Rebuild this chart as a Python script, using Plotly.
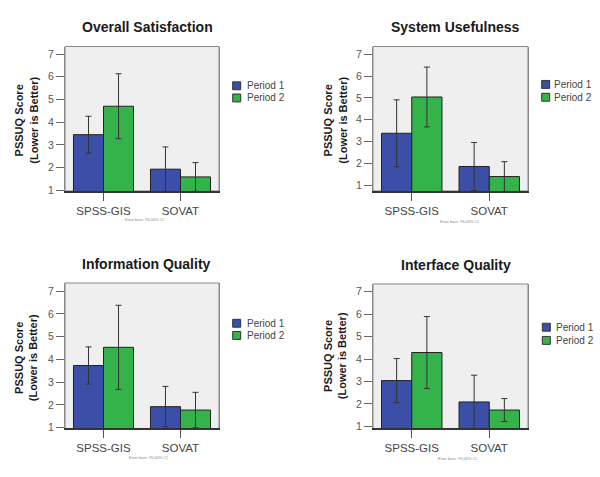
import plotly.graph_objects as go

W, H = 600, 477

categories = ["SPSS-GIS", "SOVAT"]
series_names = ["Period 1", "Period 2"]
titles = ["Overall Satisfaction", "System Usefulness", "Information Quality", "Interface Quality"]

# means per panel: [Period1, Period2] for [SPSS-GIS, SOVAT]
overall_p1 = [3.45, 1.93]
overall_p2 = [4.70, 1.59]
overall_p1_ci = [0.81, 0.98]
overall_p2_ci = [1.43, 0.63]

useful_p1 = [3.38, 1.86]
useful_p2 = [5.04, 1.40]
useful_p1_ci = [1.53, 1.10]
useful_p2_ci = [1.37, 0.68]

info_p1 = [3.73, 1.92]
info_p2 = [4.53, 1.77]
info_p1_ci = [0.82, 0.89]
info_p2_ci = [1.85, 0.78]

iface_p1 = [3.04, 2.09]
iface_p2 = [4.29, 1.73]
iface_p1_ci = [0.98, 1.19]
iface_p2_ci = [1.60, 0.51]

y_ticks = [1, 2, 3, 4, 5, 6, 7]

panels = [
    (overall_p1, overall_p2, overall_p1_ci, overall_p2_ci),
    (useful_p1, useful_p2, useful_p1_ci, useful_p2_ci),
    (info_p1, info_p2, info_p1_ci, info_p2_ci),
    (iface_p1, iface_p2, iface_p1_ci, iface_p2_ci),
]

# layout (pixels)
plot_boxes = [  # x0, x1, y0(top), y1(bottom)
    (65, 219, 47, 193),
    (373, 528, 47, 193),
    (65, 219, 286, 433),
    (373, 528, 287, 433),
]
y_ranges = [[0.97, 7.33], [0.74, 7.35], [0.96, 7.36], [0.91, 7.34]]
title_pos = [(147, 27), (455, 27), (146, 267), (456, 268)]
ytitle_pos = [(26, 122), (335, 122), (26, 362), (335, 360)]
note_pos = [(144, 222), (459, 224), (148, 462), (457, 463)]
legend_pos = [(232.7, 86.7, 99.0, 245), (541.7, 85.3, 98.3, 552),
              (232.7, 326.7, 339.0, 245), (542.3, 330.7, 344.0, 554)]

BLUE = "#3b4fa8"
GREEN = "#33b34a"
FONT = "Liberation Sans, Arial, sans-serif"

def px(x):
    return x / W

def py(y):
    return 1 - y / H

fig = go.Figure()
shapes = []
annotations = []

for i, (p1, p2, c1, c2) in enumerate(panels):
    n = "" if i == 0 else str(i + 1)
    xa, ya = "x" + n, "y" + n
    for vals, ci, name, col in [(p1, c1, series_names[0], BLUE), (p2, c2, series_names[1], GREEN)]:
        fig.add_trace(go.Bar(
            x=categories, y=vals, name=name, showlegend=False,
            xaxis=xa, yaxis=ya,
            marker=dict(color=col, line=dict(color="#222222", width=1)),
            error_y=dict(type="data", array=ci, visible=True, color="#333333", thickness=1, width=3),
        ))
    x0, x1, yt, yb = plot_boxes[i]
    fig.layout["xaxis" + n] = dict(
        domain=[px(x0), px(x1)], anchor=ya, type="category",
        range=[-0.5, 1.5], showgrid=False, zeroline=False,
        showline=True, linecolor="#333333", linewidth=1.5,
        ticks="outside", ticklen=8, tickcolor="#555555",
        tickfont=dict(family=FONT, size=11.5, color="#444444"),
    )
    fig.layout["yaxis" + n] = dict(
        domain=[py(yb), py(yt)], anchor=xa, range=y_ranges[i],
        tickvals=y_ticks, showgrid=False, zeroline=False,
        showline=True, linecolor="#888888", linewidth=1, mirror=True,
        ticks="outside", ticklen=8, tickcolor="#666666",
        tickfont=dict(family=FONT, size=10.5, color="#555555"),
    )
    shapes.append(dict(type="rect", xref=xa + " domain", yref=ya + " domain",
                       x0=0, x1=1, y0=0, y1=1, fillcolor="#efefef",
                       line=dict(color="#888888", width=1), layer="below"))
    tx, ty = title_pos[i]
    annotations.append(dict(text="<b>" + titles[i] + "</b>", x=px(tx), y=py(ty),
                            xref="paper", yref="paper", showarrow=False,
                            xanchor="center", yanchor="middle",
                            font=dict(family=FONT, size=14, color="#1a1a1a")))
    ax_, ay_ = ytitle_pos[i]
    annotations.append(dict(text="<b>PSSUQ Score<br>(Lower is Better)</b>", x=px(ax_), y=py(ay_),
                            xref="paper", yref="paper", showarrow=False, textangle=-90,
                            xanchor="center", yanchor="middle",
                            font=dict(family=FONT, size=11, color="#1a1a1a")))
    nx, ny = note_pos[i]
    annotations.append(dict(text="Error bars: 95.00% CI", x=px(nx), y=py(ny),
                            xref="paper", yref="paper", showarrow=False,
                            xanchor="center", yanchor="middle",
                            font=dict(family=FONT, size=4, color="#888888")))
    lx, ly1, ly2, ltx = legend_pos[i]
    for ly, name, col in [(ly1, series_names[0], BLUE), (ly2, series_names[1], GREEN)]:
        shapes.append(dict(type="rect", xref="paper", yref="paper",
                           x0=px(lx), x1=px(lx + 8), y0=py(ly + 4), y1=py(ly - 4),
                           fillcolor=col, line=dict(color="#333333", width=1)))
        annotations.append(dict(text=name, x=px(ltx), y=py(ly), xref="paper", yref="paper",
                                showarrow=False, xanchor="left", yanchor="middle",
                                font=dict(family=FONT, size=10, color="#444444")))

fig.update_layout(
    width=W, height=H, margin=dict(l=0, r=0, t=0, b=0),
    paper_bgcolor="white", plot_bgcolor="rgba(0,0,0,0)",
    barmode="group", bargap=0.22, bargroupgap=0,
    shapes=shapes, annotations=annotations, showlegend=False,
)

fig.write_html("out.html", config={"displayModeBar": False},
               post_script="document.body.style.margin='0';document.body.style.overflow='hidden';")
